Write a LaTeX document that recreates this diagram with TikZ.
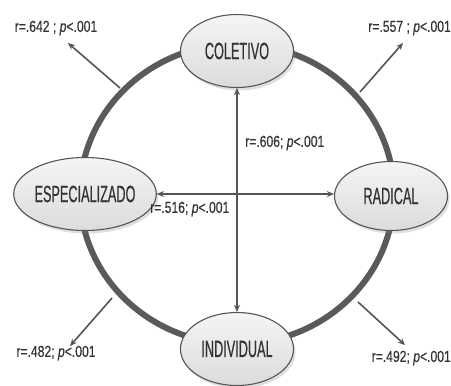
\documentclass[tikz,border=0pt]{standalone}
\usepackage{fontspec}
\setmainfont{Liberation Sans}
\newfontfamily\capfont[FakeStretch=0.54,FakeBold=0.5]{Liberation Sans}
\newfontfamily\labfont[FakeStretch=0.76,FakeBold=0.3]{Liberation Sans}
\usetikzlibrary{shapes.geometric,arrows.meta,shadows}
\definecolor{ringgray}{HTML}{5A5A5A}
\definecolor{arrgray}{HTML}{555555}
\definecolor{txtgray}{HTML}{333333}
\tikzset{
  pole/.style={ellipse, draw=arrgray, line width=1.1pt, top color=gray!8, bottom color=gray!28,
    minimum width=113pt, minimum height=73pt, inner sep=0pt, text=txtgray,
    font=\capfont\fontsize{23.5}{23.5}\selectfont,
    drop shadow={opacity=0.25, shadow xshift=2pt, shadow yshift=-3pt}},
  lab/.style={text=txtgray, inner sep=0pt, font=\labfont\fontsize{16}{16}\selectfont},
  conn/.style={draw=arrgray, line width=1.6pt, -{Stealth[length=7pt,width=6pt]}},
  bconn/.style={conn, {Stealth[length=7pt,width=6pt]}-{Stealth[length=7pt,width=6pt]}},
  ring/.style={draw=ringgray, line width=6pt}
}
\begin{document}
\begin{tikzpicture}[x=1pt,y=-1pt]
\useasboundingbox (0,0) rectangle (451,386);
% ring
\draw[ring] (237,194) ellipse [x radius=157pt, y radius=150pt];
% coordinates for diagonal arrows
\coordinate (tlS) at (120,88);  \coordinate (tlE) at (68,43);
\coordinate (trS) at (360,92);  \coordinate (trE) at (403,43);
\coordinate (blS) at (112,298); \coordinate (blE) at (70,346);
\coordinate (brS) at (358,302); \coordinate (brE) at (405,345);
\draw[conn] (tlS) -- (tlE);
\draw[conn] (trS) -- (trE);
\draw[conn] (blS) -- (blE);
\draw[conn] (brS) -- (brE);
% poles
\node[pole] (col) at (237,51) {COLETIVO};
\node[pole] (esp) at (85,194) {ESPECIALIZADO};
\node[pole, minimum height=69pt] (rad) at (391,196) {RADICAL};
\node[pole] (ind) at (237,349) {INDIVIDUAL};
% cross arrows
\draw[bconn] (col) -- (ind);
\draw[bconn] (esp.east) -- (esp.east -| rad.west);
% labels
\node[lab] (l1) at (56,28) {r=.642 ; \textit{p}<.001};
\node[lab, anchor=east] (l2) at (451,28) {r=.557 ; \textit{p}<.001};
\node[lab, anchor=west] (l3) at (245,143) {r=.606; \textit{p}<.001};
\node[lab, anchor=west] (l4) at (150,209) {r=.516; \textit{p}<.001};
\node[lab] (l5) at (56,353) {r=.482; \textit{p}<.001};
\node[lab, anchor=east] (l6) at (451,358) {r=.492; \textit{p}<.001};
\end{tikzpicture}
\end{document}
